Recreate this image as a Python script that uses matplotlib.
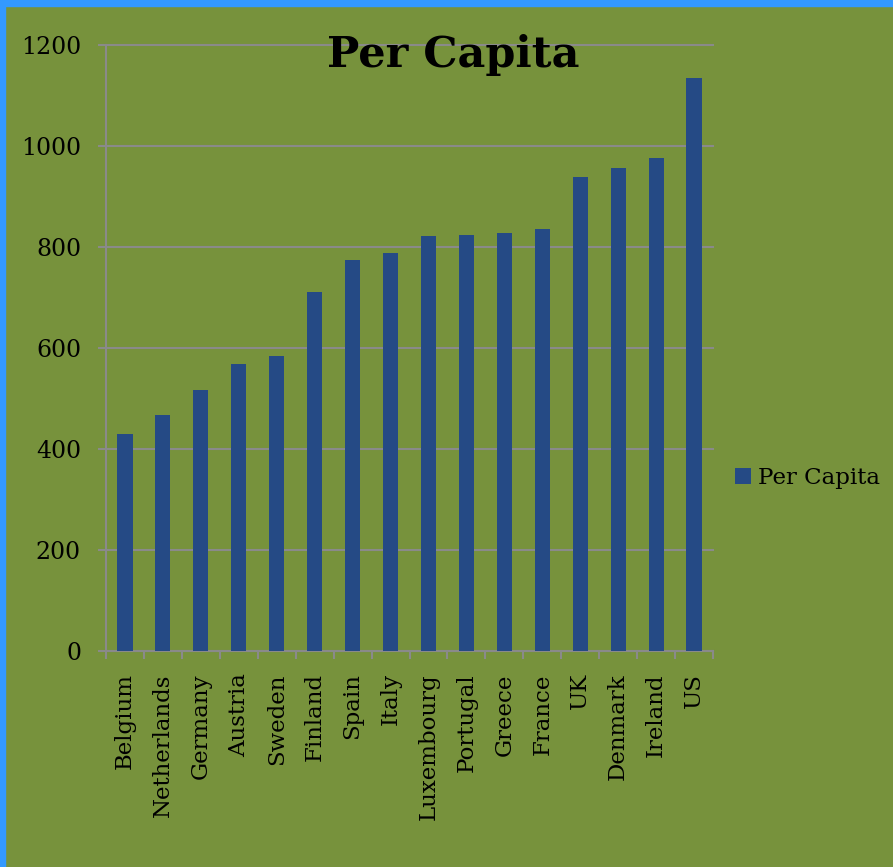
import matplotlib.pyplot as plt
from matplotlib.patches import Rectangle
import numpy as np

countries = ['Belgium', 'Netherlands', 'Germany', 'Austria', 'Sweden', 'Finland',
             'Spain', 'Italy', 'Luxembourg', 'Portugal', 'Greece', 'France',
             'UK', 'Denmark', 'Ireland', 'US']
per_capita = [430, 467, 517, 568, 584, 711, 774, 788, 822, 824, 828, 836,
              939, 956, 976, 1135]
y_ticks = [0, 200, 400, 600, 800, 1000, 1200]

bg = '#77923c'
bar_col = '#254a85'
grid_col = '#8a8a8a'

plt.rcParams['font.family'] = ['DejaVu Serif']

fig = plt.figure(figsize=(8.93, 8.67), dpi=100, facecolor=bg)
ax = fig.add_axes([106/893, 1 - 651/867, (713 - 106)/893, (651 - 45)/867])
ax.set_facecolor(bg)

x = np.arange(len(countries))
ax.bar(x, per_capita, width=0.4, color=bar_col, label='Per Capita', zorder=3)

ax.set_xlim(-0.5, len(countries) - 0.5)
ax.set_ylim(0, 1200)
ax.set_yticks(y_ticks)
ax.yaxis.grid(True, color=grid_col, linewidth=1.5, zorder=0)
for gl in ax.get_ygridlines():
    gl.set_clip_on(False)
ax.tick_params(axis='y', length=6, width=1.5, color=grid_col, labelsize=17, pad=12)

ax.set_xticks(x)
ax.set_xticklabels(countries, rotation=90, fontsize=16.5)
ax.set_xticks(np.arange(len(countries) + 1) - 0.5, minor=True)
ax.tick_params(axis='x', which='major', length=0, pad=16)
ax.tick_params(axis='x', which='minor', length=6, width=1.5, color=grid_col)

for s in ['top', 'right']:
    ax.spines[s].set_visible(False)
for s in ['left', 'bottom']:
    ax.spines[s].set_color(grid_col)
    ax.spines[s].set_linewidth(1.5)

fig.text(453/893, 1 - 55/867, 'Per Capita', ha='center', va='center',
         fontsize=31, fontweight='bold')

fig.legend(loc='center left', bbox_to_anchor=(726/893, 1 - 478/867),
           frameon=False, fontsize=16.5, handlelength=0.7, handleheight=0.7,
           handletextpad=0.3, borderaxespad=0)

# blue border on top and left
fig.patches.append(Rectangle((0, 1 - 6/867), 1, 6/867, transform=fig.transFigure,
                             color='#3399ff', zorder=10))
fig.patches.append(Rectangle((0, 0), 5/893, 1, transform=fig.transFigure,
                             color='#3399ff', zorder=10))

fig.savefig('out.png', dpi=100, facecolor=bg)
